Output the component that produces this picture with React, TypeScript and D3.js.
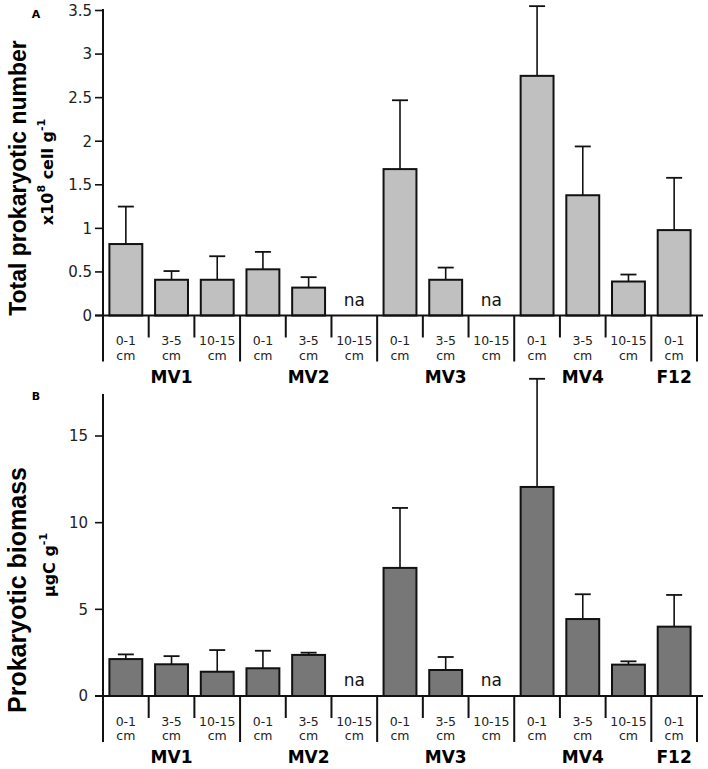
import React from 'react';
import * as d3 from 'd3';

const sites = ["MV1","MV1","MV1","MV2","MV2","MV2","MV3","MV3","MV3","MV4","MV4","MV4","F12"];
const depths = ["0-1","3-5","10-15","0-1","3-5","10-15","0-1","3-5","10-15","0-1","3-5","10-15","0-1"];
const groups = ["MV1","MV2","MV3","MV4","F12"];
const numberMeans: (number | null)[] = [0.82,0.41,0.41,0.53,0.32,null,1.68,0.41,null,2.75,1.38,0.39,0.98];
const numberErrors: (number | null)[] = [0.43,0.10,0.27,0.20,0.12,null,0.79,0.14,null,0.80,0.56,0.08,0.60];
const biomassMeans: (number | null)[] = [2.13,1.83,1.40,1.60,2.37,null,7.39,1.50,null,12.06,4.44,1.81,4.00];
const biomassErrors: (number | null)[] = [0.27,0.47,1.25,1.01,0.13,null,3.46,0.75,null,6.24,1.43,0.19,1.83];
const numberTicks = [0,0.5,1,1.5,2,2.5,3,3.5];
const numberTickLabels = ["0","0.5","1","1.5","2","2.5","3","3.5"];
const biomassTicks = [0,5,10,15];
const biomassTickLabels = ["0","5","10","15"];

const FONT = "'DejaVu Sans', sans-serif";
const AXIS_X = 103;
const END_X = 697;

const x = d3.scaleBand<number>()
  .domain(d3.range(sites.length))
  .range([AXIS_X, END_X])
  .paddingInner(0.28)
  .paddingOuter(0.14);

function boundary(i: number): number {
  const half = (x.step() * x.paddingInner()) / 2;
  if (i >= sites.length) return (x(sites.length - 1) as number) + x.bandwidth() + half;
  return (x(i) as number) - half;
}

type PanelProps = {
  letter: string;
  letterY: number;
  base: number;
  top: number;
  domainMax: number;
  axisTop: number;
  means: (number | null)[];
  errors: (number | null)[];
  ticks: number[];
  tickLabels: string[];
  tickLabelX: number;
  fill: string;
  title: string;
  titleFont: string;
  titleSize: number;
  titleX: number;
  titleY: number;
  sub: React.ReactNode;
  subX: number;
  subY: number;
};

function Panel(p: PanelProps) {
  const y = d3.scaleLinear().domain([0, p.domainMax]).range([p.base, p.top]);
  const cx = (i: number) => (x(i) as number) + x.bandwidth() / 2;
  return (
    <g>
      <text x={36} y={p.letterY} fontFamily={FONT} fontWeight="bold" fontSize={11} textAnchor="middle">{p.letter}</text>
      <text transform={`translate(${p.titleX},${p.titleY}) rotate(-90)`} fontFamily={p.titleFont} fontWeight="bold"
        fontSize={p.titleSize} textAnchor="middle" dominantBaseline="central">{p.title}</text>
      <text transform={`translate(${p.subX},${p.subY}) rotate(-90)`} fontFamily={FONT} fontWeight="bold"
        fontSize={16} textAnchor="middle" dominantBaseline="central">{p.sub}</text>
      {p.means.map((m, i) => {
        if (m == null) {
          return (
            <text key={i} x={cx(i)} y={p.base - 10} fontFamily={FONT} fontSize={17} textAnchor="middle" fill="#111">na</text>
          );
        }
        const e = p.errors[i] ?? 0;
        return (
          <g key={i}>
            <line x1={cx(i)} x2={cx(i)} y1={y(m)} y2={y(m + e)} stroke="#111" strokeWidth={1.6} />
            <line x1={cx(i) - 8} x2={cx(i) + 8} y1={y(m + e)} y2={y(m + e)} stroke="#111" strokeWidth={1.8} />
            <rect x={x(i)} y={y(m)} width={x.bandwidth()} height={p.base - y(m)} fill={p.fill} stroke="#111" strokeWidth={2} />
          </g>
        );
      })}
      <line x1={AXIS_X} x2={AXIS_X} y1={p.axisTop} y2={p.base + 46} stroke="#111" strokeWidth={2} />
      <line x1={AXIS_X - 8} x2={END_X + 6} y1={p.base} y2={p.base} stroke="#111" strokeWidth={2} />
      {p.ticks.map((t, k) => (
        <g key={k}>
          <line x1={AXIS_X - 8} x2={AXIS_X} y1={y(t)} y2={y(t)} stroke="#111" strokeWidth={1.6} />
          <text x={p.tickLabelX} y={y(t)} dy="0.36em" fontFamily={FONT} fontSize={15} textAnchor="end" fill="#222">{p.tickLabels[k]}</text>
        </g>
      ))}
      {d3.range(1, sites.length + 1).map((i) => {
        const long = i === sites.length || sites[i] !== sites[i - 1];
        const bx = boundary(i);
        return <line key={i} x1={bx} x2={bx} y1={p.base} y2={p.base + (long ? 46 : 22)} stroke="#111" strokeWidth={2} />;
      })}
      {depths.map((d, i) => (
        <g key={i}>
          <text x={cx(i)} y={p.base + 29.5} fontFamily={FONT} fontSize={12.5} textAnchor="middle" fill="#222">{d}</text>
          <text x={cx(i)} y={p.base + 44} fontFamily={FONT} fontSize={12.5} textAnchor="middle" fill="#222">cm</text>
        </g>
      ))}
      {groups.map((g) => {
        const idx = sites.map((s, i) => (s === g ? i : -1)).filter((i) => i >= 0);
        const gx = (boundary(idx[0]) + boundary(idx[idx.length - 1] + 1)) / 2;
        return (
          <text key={g} x={gx} y={p.base + 67} fontFamily={FONT} fontWeight="bold" fontSize={17} textAnchor="middle">{g}</text>
        );
      })}
    </g>
  );
}

export default function App() {
  return (
    <svg width={708} height={769} style={{ position: 'absolute', left: 0, top: 0, background: '#fff' }}>
      <Panel letter="A" letterY={18} base={315.5} top={10.5} domainMax={3.5} axisTop={9}
        means={numberMeans} errors={numberErrors} ticks={numberTicks} tickLabels={numberTickLabels}
        tickLabelX={92} fill="#c0c0c0" title="Total prokaryotic number" titleFont="'Liberation Sans', Arial, sans-serif"
        titleSize={23} titleX={18} titleY={178}
        sub={<>x10<tspan dy={-6} fontSize={11}>8</tspan><tspan dy={6}> cell g</tspan><tspan dy={-6} fontSize={11}>-1</tspan></>}
        subX={47} subY={172} />
      <Panel letter="B" letterY={400} base={696} top={436} domainMax={15} axisTop={394}
        means={biomassMeans} errors={biomassErrors} ticks={biomassTicks} tickLabels={biomassTickLabels}
        tickLabelX={88} fill="#777777" title="Prokaryotic biomass" titleFont="'Liberation Sans', Arial, sans-serif"
        titleSize={25} titleX={17} titleY={590}
        sub={<>µgC g<tspan dy={-6} fontSize={11}>-1</tspan></>}
        subX={49} subY={565} />
    </svg>
  );
}
